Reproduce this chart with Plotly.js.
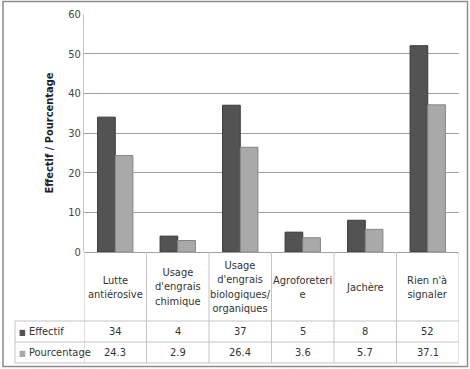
<!DOCTYPE html>
<html>
<head>
<meta charset="utf-8">
<script src="https://cdn.plot.ly/plotly-3.0.1.min.js"></script>
<style>html,body{margin:0;padding:0;background:#fff;}#chart{width:470px;height:369px;}</style>
</head>
<body>
<div id="chart"></div>
<script>
const categories = ["Lutte antiérosive", "Usage d'engrais chimique", "Usage d'engrais biologiques/ organiques", "Agroforeterie", "Jachère", "Rien n'à signaler"];
const categoryLabels = ["Lutte<br>antiérosive", "Usage<br>d'engrais<br>chimique", "Usage<br>d'engrais<br>biologiques/<br>organiques", "Agroforeteri<br>e", "Jachère", "Rien n'à<br>signaler"];
const effectif = [34, 4, 37, 5, 8, 52];
const pourcentage = [24.3, 2.9, 26.4, 3.6, 5.7, 37.1];
const seriesNames = ["Effectif", "Pourcentage"];

const FONT = "'Liberation Sans Narrow', 'DejaVu Sans Condensed', 'Open Sans', sans-serif";
const darkCol = '#535353', lightCol = '#a9a9a9';

// geometry (paper units): plot area 84..459 x 14..252
const L = 84, R = 459, T = 14, B = 252;
const W = R - L, H = B - T;
const px = v => (v - L) / W;
const py = v => (B - v) / H;

const yHeaderBottom = py(321), yRow1Bottom = py(342), yTableBottom = py(363);
const xLegendLeft = px(15);

const traces = [
  {type: 'bar', x: categories, y: effectif, name: seriesNames[0],
   marker: {color: darkCol, line: {color: '#383838', width: 1}}, hoverinfo: 'y'},
  {type: 'bar', x: categories, y: pourcentage, name: seriesNames[1],
   marker: {color: lightCol, line: {color: '#858585', width: 1}}, hoverinfo: 'y'}
];

const shapes = [];
const lineCol = '#c4c4c4';
for (let i = 0; i <= categories.length; i++) {
  shapes.push({type: 'line', xref: 'x', yref: 'paper', x0: i - 0.5, x1: i - 0.5, y0: 0, y1: yTableBottom,
    line: {color: lineCol, width: 1}});
}
[yHeaderBottom, yRow1Bottom, yTableBottom].forEach(y => {
  shapes.push({type: 'line', xref: 'paper', yref: 'paper', x0: xLegendLeft, x1: 1, y0: y, y1: y,
    line: {color: lineCol, width: 1}});
});
shapes.push({type: 'line', xref: 'paper', yref: 'paper', x0: xLegendLeft, x1: xLegendLeft, y0: yHeaderBottom, y1: yTableBottom,
  line: {color: lineCol, width: 1}});
shapes.push({type: 'rect', xref: 'paper', yref: 'paper', x0: px(3), x1: px(467.5), y0: py(366.5), y1: py(1.5),
  line: {color: '#8c8c8c', width: 1.5}});

const annotations = [];
const txtFont = {family: FONT, size: 11, color: '#333'};
categories.forEach((c, i) => {
  annotations.push({xref: 'x', yref: 'paper', x: c, y: (py(253) + yHeaderBottom) / 2, text: categoryLabels[i],
    showarrow: false, xanchor: 'center', yanchor: 'middle', font: txtFont, align: 'center'});
  annotations.push({xref: 'x', yref: 'paper', x: c, y: (yHeaderBottom + yRow1Bottom) / 2, text: String(effectif[i]),
    showarrow: false, xanchor: 'center', yanchor: 'middle', font: txtFont});
  annotations.push({xref: 'x', yref: 'paper', x: c, y: (yRow1Bottom + yTableBottom) / 2, text: String(pourcentage[i]),
    showarrow: false, xanchor: 'center', yanchor: 'middle', font: txtFont});
});
annotations.push({xref: 'paper', yref: 'paper', x: xLegendLeft + 0.006, y: (yHeaderBottom + yRow1Bottom) / 2,
  text: '<span style="color:' + darkCol + ';font-size:8px">■</span> ' + seriesNames[0], showarrow: false, xanchor: 'left', yanchor: 'middle', font: txtFont});
annotations.push({xref: 'paper', yref: 'paper', x: xLegendLeft + 0.006, y: (yRow1Bottom + yTableBottom) / 2,
  text: '<span style="color:' + lightCol + ';font-size:8px">■</span> ' + seriesNames[1], showarrow: false, xanchor: 'left', yanchor: 'middle', font: txtFont});

const layout = {
  width: 470, height: 369,
  margin: {l: L, r: 470 - R, t: T, b: 369 - B, pad: 0},
  paper_bgcolor: '#fff', plot_bgcolor: '#fff',
  showlegend: false,
  barmode: 'group', bargap: 0.435, bargroupgap: 0,
  font: {family: FONT, size: 11, color: '#333'},
  xaxis: {type: 'category', range: [-0.5, categories.length - 0.5], showticklabels: false, showgrid: false,
    zeroline: false, showline: false, ticks: '', fixedrange: true},
  yaxis: {range: [0, 60], dtick: 10, tick0: 0, showgrid: true, gridcolor: '#a0a0a0', gridwidth: 1,
    zeroline: true, zerolinecolor: '#a0a0a0', showline: true, linecolor: '#c4c4c4', ticks: '',
    tickfont: {family: FONT, size: 11, color: '#444'}, automargin: false,
    title: {text: '<b>Effectif / Pourcentage</b>', standoff: 12, font: {family: FONT, size: 11, color: '#222'}}},
  shapes: shapes,
  annotations: annotations
};

Plotly.newPlot('chart', traces, layout, {displayModeBar: false, staticPlot: true});
</script>
</body>
</html>
